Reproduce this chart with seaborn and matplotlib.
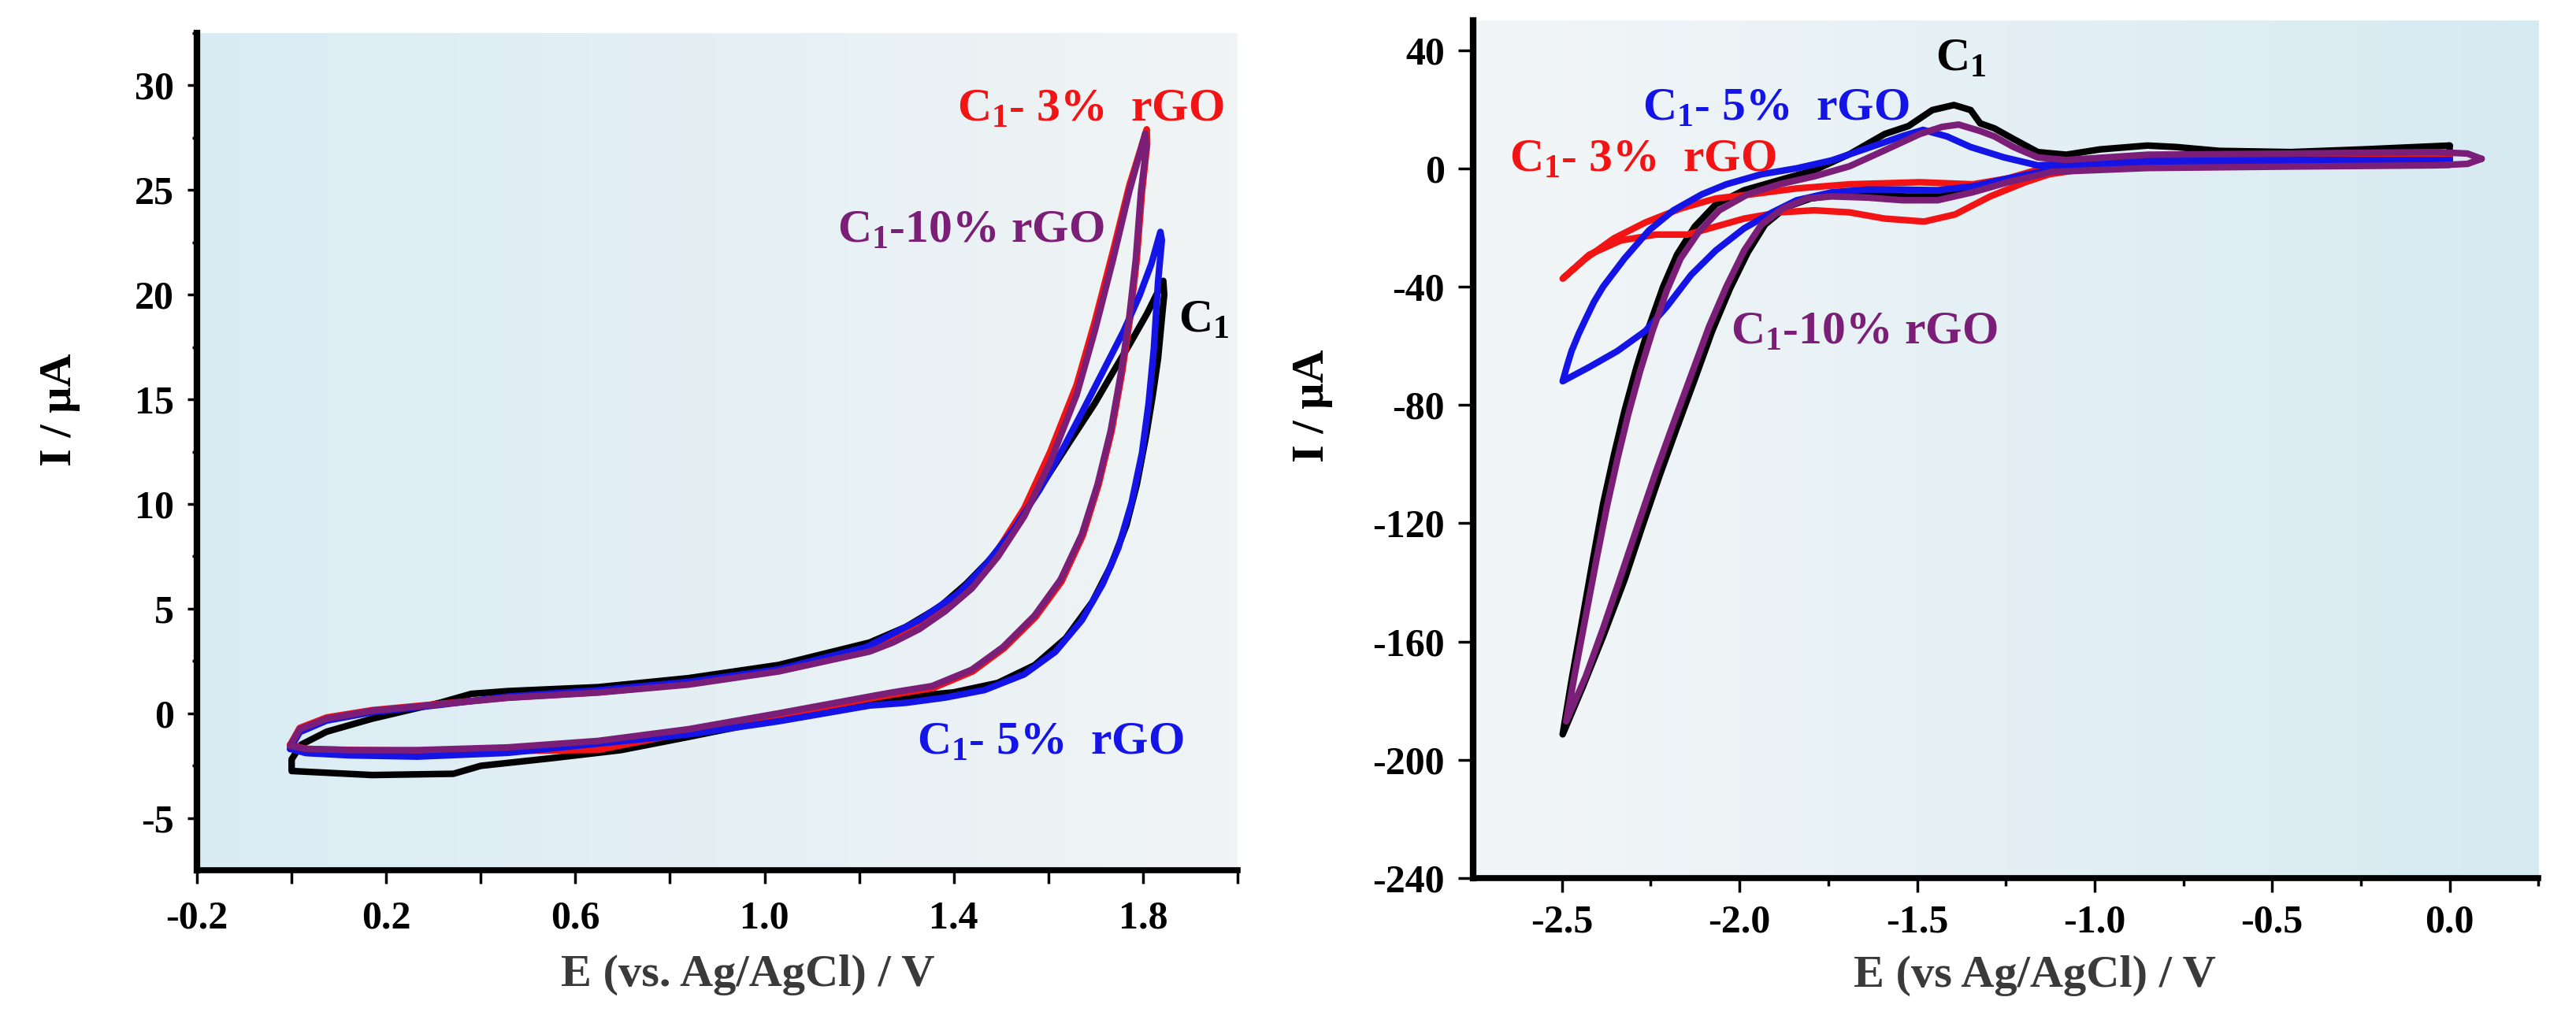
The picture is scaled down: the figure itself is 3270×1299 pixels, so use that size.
import numpy as np
import matplotlib
matplotlib.use("Agg")
import matplotlib.pyplot as plt
from matplotlib.colors import LinearSegmentedColormap
import seaborn as sns

# ── Data: left panel (anodic window), E in V, I in uA ──────────────────────
# each loop = forward branch followed by reverse branch
L_BLACK_E = [0.00, 0.00, 0.02, 0.074, 0.17, 0.313, 0.38, 0.457, 0.648, 0.839, 1.03, 1.222,
             1.299, 1.371, 1.426, 1.482, 1.537, 1.593, 1.648, 1.698, 1.737, 1.771, 1.809, 1.843,
             1.845, 1.841, 1.832, 1.821, 1.807, 1.787, 1.765, 1.732, 1.693, 1.637, 1.571, 1.493,
             1.40, 1.222, 1.03, 0.839, 0.696, 0.552, 0.40, 0.342, 0.17, 0.003]
L_BLACK_I = [-2.76, -2.2, -1.5, -0.88, -0.26, 0.50, 0.93, 1.06, 1.25, 1.68, 2.31, 3.38,
             4.13, 5.1, 6.18, 7.47, 9.2, 11.14, 13.07, 14.8, 16.31, 17.6, 19.11, 20.66,
             20.0, 19.1, 16.95, 15.23, 13.29, 10.92, 8.98, 7.04, 5.32, 3.59, 2.30, 1.45,
             1.0, 0.62, -0.26, -1.13, -1.76, -2.14, -2.51, -2.89, -2.95, -2.76]

L_RED_E = [-0.003, 0.017, 0.074, 0.17, 0.313, 0.457, 0.648, 0.839, 1.03, 1.222, 1.327, 1.382,
           1.438, 1.493, 1.549, 1.604, 1.66, 1.698, 1.737, 1.771, 1.808,
           1.809, 1.798, 1.787, 1.773, 1.756, 1.734, 1.706, 1.673, 1.628, 1.573, 1.506, 1.44,
           1.356, 1.273, 1.222, 1.03, 0.839, 0.648, 0.457, 0.266, 0.122, 0.03, -0.003]
L_RED_I = [-1.5, -0.7, -0.2, 0.15, 0.45, 0.75, 1.0, 1.4, 2.05, 3.05, 4.15, 5.05,
           6.2, 7.8, 9.8, 12.5, 15.7, 18.7, 22.1, 25.2, 27.9,
           27.2, 24.9, 21.7, 18.9, 16.3, 13.5, 10.9, 8.5, 6.3, 4.6, 3.1, 2.0,
           1.2, 0.9, 0.7, -0.1, -0.9, -1.75, -1.8, -1.8, -1.75, -1.7, -1.5]

L_BLUE_E = [-0.003, 0.017, 0.074, 0.17, 0.313, 0.457, 0.648, 0.839, 1.03, 1.215, 1.327, 1.41,
            1.465, 1.526, 1.582, 1.626, 1.671, 1.715, 1.759, 1.793, 1.818, 1.837,
            1.84, 1.832, 1.823, 1.812, 1.798, 1.776, 1.748, 1.715, 1.671, 1.615, 1.549, 1.465,
            1.382, 1.299, 1.222, 1.03, 0.839, 0.648, 0.457, 0.266, 0.122, 0.03, -0.003]
L_BLUE_I = [-1.7, -0.9, -0.35, 0.05, 0.4, 0.8, 1.1, 1.5, 2.1, 3.16, 4.45, 5.74,
            7.04, 8.76, 10.7, 12.43, 14.37, 16.31, 18.25, 19.97, 21.48, 23.0,
            22.6, 20.62, 17.39, 14.8, 12.43, 10.06, 7.9, 6.18, 4.45, 2.94, 1.86, 1.11,
            0.75, 0.5, 0.37, -0.38, -1.01, -1.45, -1.89, -2.07, -2.01, -1.9, -1.7]

L_PURPLE_E = [-0.003, 0.017, 0.074, 0.17, 0.313, 0.457, 0.648, 0.839, 1.03, 1.222, 1.271, 1.327,
              1.382, 1.438, 1.493, 1.549, 1.604, 1.66, 1.698, 1.737, 1.771, 1.805,
              1.807, 1.796, 1.785, 1.771, 1.754, 1.732, 1.704, 1.671, 1.626, 1.571, 1.504, 1.438,
              1.354, 1.271, 1.222, 1.03, 0.839, 0.648, 0.457, 0.266, 0.122, 0.03, -0.003]
L_PURPLE_I = [-1.55, -0.76, -0.26, 0.12, 0.43, 0.74, 0.99, 1.37, 2.0, 2.95, 3.38, 4.02,
              4.88, 5.96, 7.47, 9.41, 12.0, 15.23, 18.25, 21.7, 24.93, 27.7,
              27.0, 24.93, 21.7, 18.9, 16.31, 13.51, 10.92, 8.55, 6.39, 4.67, 3.16, 2.08,
              1.3, 1.0, 0.8, 0.0, -0.76, -1.32, -1.63, -1.76, -1.76, -1.7, -1.55]

# ── Data: right panel (cathodic window) ─────────────────────────────────────
R_BLACK_E = [0.0, 0.0, -0.25, -0.5, -0.75, -1.0, -1.127, -1.234, -1.333, -1.432, -1.531, -1.631,
             -1.73, -1.799, -1.868, -1.928, -1.977, -2.027, -2.077, -2.126, -2.176, -2.225,
             -2.275, -2.324, -2.384, -2.443, -2.498,
             -2.473, -2.443, -2.413, -2.384, -2.354, -2.324, -2.29, -2.255, -2.215, -2.176,
             -2.126, -2.067, -1.987, -1.888, -1.789, -1.69, -1.591, -1.524, -1.457, -1.396,
             -1.349, -1.322, -1.282, -1.228, -1.16, -1.08, -0.985, -0.851, -0.77, -0.649,
             -0.447, -0.245, 0.0]
R_BLACK_I = [7.7, 1.2, 1.0, 0.9, 0.8, 0.5, 0.0, -3.4, -6.8, -9.5, -9.5, -8.8,
             -9.1, -10.2, -13.1, -19.0, -28.5, -40.7, -55.0, -71.3, -87.6, -103.9,
             -121.5, -139.2, -158.2, -175.8, -191.4,
             -173.1, -152.8, -132.4, -113.4, -97.1, -82.1, -67.2, -53.6, -40.0, -29.2,
             -19.7, -12.2, -7.4, -4.0, -0.65, 4.8, 11.6, 14.3, 19.7, 21.4,
             19.7, 15.2, 13.5, 9.9, 5.5, 4.6, 6.4, 7.7, 7.2, 5.9,
             5.5, 6.4, 7.7]

R_RED_E = [0.0, -0.447, -0.851, -1.0, -1.127, -1.195, -1.294, -1.393, -1.48, -1.591, -1.69,
           -1.789, -1.888, -1.987, -2.067, -2.146, -2.235, -2.334, -2.423, -2.498,
           -2.433, -2.354, -2.265, -2.166, -2.067, -1.967, -1.839, -1.69, -1.492, -1.343,
           -1.244, -1.127, -1.0, -0.5, 0.0]
R_RED_I = [4.5, 1.5, 0.8, 0.3, -2.0, -4.7, -9.5, -15.6, -18.0, -17.0, -14.9,
           -14.2, -14.9, -17.0, -19.7, -22.4, -22.4, -24.4, -29.2, -37.3,
           -30.5, -23.7, -18.3, -13.6, -10.2, -8.8, -6.8, -5.4, -4.7, -5.4,
           -3.4, 0.7, 2.0, 3.0, 4.5]

R_BLUE_E = [0.0, 0.0, -0.447, -0.851, -1.0, -1.127, -1.244, -1.343, -1.442, -1.541, -1.64,
            -1.74, -1.839, -1.908, -1.987, -2.067, -2.136, -2.205, -2.265, -2.344, -2.423, -2.498,
            -2.485, -2.473, -2.453, -2.433, -2.41, -2.384, -2.324, -2.255, -2.186, -2.106, -2.037,
            -1.938, -1.839, -1.74, -1.64, -1.541, -1.483, -1.416, -1.349, -1.255, -1.16, -1.0,
            -0.851, -0.447, 0.0]
R_BLUE_I = [2.8, 1.3, 1.0, 0.8, 0.5, -0.65, -3.4, -6.1, -7.4, -7.2, -7.2,
            -8.1, -10.8, -14.9, -20.3, -27.8, -36.0, -46.8, -55.0, -61.8, -67.2, -72.0,
            -66.5, -61.8, -56.0, -50.9, -45.2, -40.0, -30.5, -21.0, -14.2, -8.8, -5.4,
            -2.0, 0.0, 2.7, 6.8, 10.9, 13.0, 10.8, 7.2, 3.7, 1.0, 2.0,
            2.8, 2.8, 2.8]

R_PURPLE_E = [0.09, 0.05, -0.043, -0.447, -0.851, -1.12, -1.244, -1.343, -1.442, -1.541, -1.64,
              -1.74, -1.809, -1.878, -1.938, -1.987, -2.037, -2.086, -2.136, -2.186, -2.235,
              -2.285, -2.334, -2.384, -2.433, -2.488,
              -2.463, -2.433, -2.403, -2.374, -2.344, -2.314, -2.28, -2.245, -2.205, -2.166,
              -2.116, -2.057, -1.977, -1.888, -1.789, -1.69, -1.591, -1.492, -1.43, -1.383,
              -1.322, -1.282, -1.228, -1.16, -1.08, -0.851, -0.447, -0.043, 0.05, 0.09]
R_PURPLE_I = [3.2, 1.5, 1.0, 0.6, 0.1, -1.2, -4.7, -8.1, -10.8, -10.8, -9.9,
              -9.5, -10.2, -13.6, -19.0, -27.8, -40.0, -53.6, -69.9, -86.2, -102.5,
              -120.2, -137.8, -155.5, -171.8, -187.0,
              -170.4, -151.4, -132.4, -114.7, -98.4, -83.5, -68.6, -55.0, -41.4, -30.5,
              -21.7, -14.2, -8.8, -5.4, -2.7, 0.7, 6.1, 11.6, 14.0, 14.8,
              12.6, 10.8, 7.2, 3.7, 2.8, 4.6, 5.0, 5.5, 5.0, 3.2]

# ── Style ───────────────────────────────────────────────────────────────────
COLORS = {"black": "#000000", "red": "#f21414", "blue": "#1414e6", "purple": "#7a1e78"}
LW = 6.0
sns.set_theme(style="ticks")
plt.rcParams["font.family"] = ["Liberation Serif", "DejaVu Serif"]
plt.rcParams["font.weight"] = "bold"
plt.rcParams["mathtext.fontset"] = "custom"
plt.rcParams["mathtext.rm"] = "Liberation Serif:bold"
plt.rcParams["mathtext.it"] = "Liberation Serif:bold"
plt.rcParams["mathtext.bf"] = "Liberation Serif:bold"
plt.rcParams["axes.unicode_minus"] = False


def paint_bg(ax, c_left, c_right):
    cmap = LinearSegmentedColormap.from_list("bg", [c_left, c_right])
    grad = np.linspace(0, 1, 256)[None, :]
    ax.imshow(grad, aspect="auto", cmap=cmap, extent=[0, 1, 0, 1],
              transform=ax.transAxes, zorder=0, interpolation="bilinear")


def draw_loop(ax, e, i, color):
    sns.lineplot(x=e, y=i, sort=False, estimator=None, color=color, linewidth=LW,
                 ax=ax, zorder=3, solid_joinstyle="round", solid_capstyle="round")


fig = plt.figure(figsize=(32.7, 12.99), dpi=100)
ax1 = fig.add_axes([0.0765, 0.1493, 0.4039, 0.8184])
ax2 = fig.add_axes([0.5719, 0.1417, 0.4135, 0.8383])

# ── Left panel ──────────────────────────────────────────────────────────────
paint_bg(ax1, "#d9ecf4", "#f1f4f5")
draw_loop(ax1, L_BLACK_E, L_BLACK_I, COLORS["black"])
draw_loop(ax1, L_RED_E, L_RED_I, COLORS["red"])
draw_loop(ax1, L_BLUE_E, L_BLUE_I, COLORS["blue"])
draw_loop(ax1, L_PURPLE_E, L_PURPLE_I, COLORS["purple"])
ax1.set_xlim(-0.2, 2.0)
ax1.set_ylim(-7.5, 32.5)
ax1.set_xticks([-0.2, 0.2, 0.6, 1.0, 1.4, 1.8])
ax1.set_xticks([0.0, 0.4, 0.8, 1.2, 1.6, 2.0], minor=True)
ax1.set_yticks([-5, 0, 5, 10, 15, 20, 25, 30])
ax1.set_yticks([-2.5, 2.5, 7.5, 12.5, 17.5, 22.5, 27.5, 32.5], minor=True)
ax1.set_xticklabels(["-0.2", "0.2", "0.6", "1.0", "1.4", "1.8"])
ax1.set_yticklabels(["-5", "0", "5", "10", "15", "20", "25", "30"])
ax1.tick_params(axis="x", which="both", direction="out", length=12, width=2.5,
                labelsize=36, pad=16, color="black")
ax1.tick_params(axis="y", which="major", direction="out", length=9, width=2.5,
                labelsize=36, pad=12, color="black")
ax1.tick_params(axis="y", which="minor", direction="out", length=4, width=2.5, color="black")
ax1.set_xlabel("E (vs. Ag/AgCl) / V", fontsize=42, fontweight="bold", color="#3a3a3a")
ax1.set_ylabel("I / \u03bcA", fontsize=42, fontweight="bold", color="black")
ax1.xaxis.set_label_coords(0.529, -0.100)
ax1.yaxis.set_label_coords(-0.112, 0.55)

txt = dict(fontsize=43, fontweight="bold", ha="left", va="baseline", zorder=5)
ax1.text(1.407, 28.3, "C$_1$- 3%  rGO", color=COLORS["red"], **txt)
ax1.text(1.154, 22.5, "C$_1$-10% rGO", color=COLORS["purple"], **txt)
ax1.text(1.875, 18.2, "C$_1$", color="black", **txt)
ax1.text(1.322, -1.95, "C$_1$- 5%  rGO", color=COLORS["blue"], **txt)

# ── Right panel ─────────────────────────────────────────────────────────────
paint_bg(ax2, "#f3f6f7", "#d6eaf2")
draw_loop(ax2, R_BLACK_E, R_BLACK_I, COLORS["black"])
draw_loop(ax2, R_RED_E, R_RED_I, COLORS["red"])
draw_loop(ax2, R_BLUE_E, R_BLUE_I, COLORS["blue"])
draw_loop(ax2, R_PURPLE_E, R_PURPLE_I, COLORS["purple"])
ax2.set_xlim(-2.75, 0.25)
ax2.set_ylim(-240, 50)
ax2.set_xticks([-2.5, -2.0, -1.5, -1.0, -0.5, 0.0])
ax2.set_xticks([-2.25, -1.75, -1.25, -0.75, -0.25, 0.25], minor=True)
ax2.set_yticks([-240, -200, -160, -120, -80, -40, 0, 40])
ax2.set_xticklabels(["-2.5", "-2.0", "-1.5", "-1.0", "-0.5", "0.0"])
ax2.set_yticklabels(["-240", "-200", "-160", "-120", "-80", "-40", "0", "40"])
ax2.tick_params(axis="x", which="major", direction="out", length=13, width=2.5,
                labelsize=36, pad=11, color="black")
ax2.tick_params(axis="x", which="minor", direction="out", length=7, width=2.5, color="black")
ax2.tick_params(axis="y", which="major", direction="out", length=14, width=2.5,
                labelsize=36, pad=12, color="black")
ax2.set_xlabel("E (vs Ag/AgCl) / V", fontsize=42, fontweight="bold", color="#3a3a3a")
ax2.set_ylabel("I / \u03bcA", fontsize=42, fontweight="bold", color="black")
ax2.xaxis.set_label_coords(0.527, -0.090)
ax2.yaxis.set_label_coords(-0.132, 0.551)

ax2.text(-1.447, 33.0, "C$_1$", color="black", **txt)
ax2.text(-2.273, 16.2, "C$_1$- 5%  rGO", color=COLORS["blue"], **txt)
ax2.text(-2.648, -1.1, "C$_1$- 3%  rGO", color=COLORS["red"], **txt)
ax2.text(-2.024, -59.4, "C$_1$-10% rGO", color=COLORS["purple"], **txt)

for ax in (ax1, ax2):
    sns.despine(ax=ax)
    ax.spines["left"].set_linewidth(6)
    ax.spines["bottom"].set_linewidth(5.5)
    ax.spines["left"].set_color("black")
    ax.spines["bottom"].set_color("black")
    ax.grid(False)
    for lab in ax.get_xticklabels() + ax.get_yticklabels():
        lab.set_fontweight("bold")
        lab.set_color("black")

fig.savefig("out.png", dpi=100, facecolor="white")
